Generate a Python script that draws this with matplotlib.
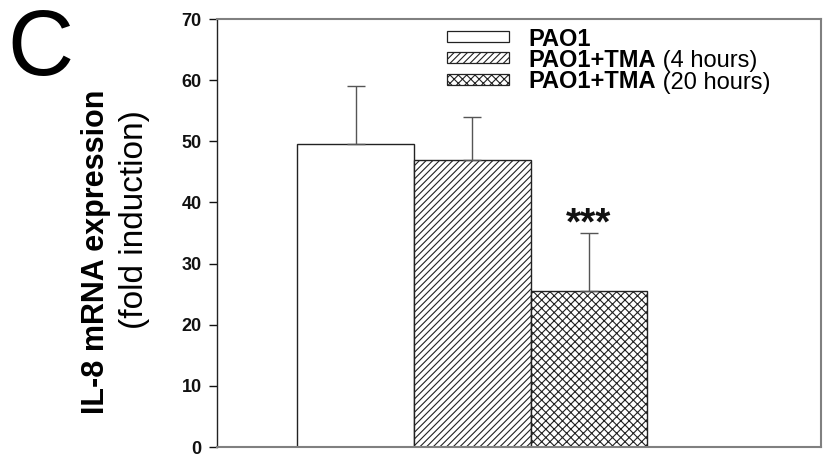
import matplotlib
matplotlib.use("Agg")
import matplotlib.pyplot as plt
from matplotlib.patches import Rectangle

plt.rcParams['font.family'] = ['Liberation Sans', 'DejaVu Sans']
plt.rcParams['hatch.linewidth'] = 0.8

# Data
groups = ["PAO1", "PAO1+TMA", "PAO1+TMA"]
group_notes = ["", " (4 hours)", " (20 hours)"]
means = [49.5, 47.0, 25.5]
errors_up = [9.5, 7.0, 9.5]
hatches = ["", "/////", "xxxx"]
y_ticks = [0, 10, 20, 30, 40, 50, 60, 70]

W, H = 825, 465
fig = plt.figure(figsize=(W / 100, H / 100), dpi=100)


def fx(px):
    return px / W


def fy(py):
    return 1 - py / H


ax = fig.add_axes([fx(217), fy(447), fx(821) - fx(217), fy(19) - fy(447)])

xs = list(range(len(means)))
for x, m, h in zip(xs, means, hatches):
    ax.bar(x, m, width=1.0, color="white", edgecolor="#222222",
           linewidth=1.0, hatch=h, zorder=2)

ax.errorbar(xs, means, yerr=[[0] * len(means), errors_up], fmt="none",
            ecolor="#555555", elinewidth=1.0, capsize=6.5, capthick=1.0,
            zorder=3)

# significance marker over the 20 h group
ax.annotate("***", xy=(xs[2], means[2] + errors_up[2]),
            xytext=(0, -1.0), textcoords="offset points",
            ha="center", va="baseline", fontsize=28, fontweight="bold",
            color="#111111")

ax.set_xlim(-1.19, 3.99)
ax.set_ylim(0, 70)
ax.set_yticks(y_ticks)
ax.set_yticklabels([str(t) for t in y_ticks], fontsize=13, fontweight="bold")
ax.set_xticks([])
ax.tick_params(axis="y", direction="out", length=6, width=1, pad=5,
               colors="#111111")

for side in ["top", "right", "bottom"]:
    ax.spines[side].set_color("#808080")
    ax.spines[side].set_linewidth(1.5)
ax.spines["left"].set_color("#222222")
ax.spines["left"].set_linewidth(1.0)

# Legend drawn by hand to mix bold and regular text
row_y = [36.5, 58, 79.5]
for gname, note, h, ry in zip(groups, group_notes, hatches, row_y):
    fig.patches.append(Rectangle((fx(447), fy(ry + 5.5)), fx(62), 11 / H,
                                 transform=fig.transFigure,
                                 facecolor="white", edgecolor="#222222",
                                 linewidth=0.9, hatch=h))
    t = fig.text(fx(528), fy(ry), gname, fontsize=17, fontweight="bold",
                 va="center_baseline", ha="left")
    if note:
        ax.annotate(note, xy=(1, 0), xycoords=t, fontsize=17,
                    va="bottom", ha="left", annotation_clip=False)

# Axis title (two lines, rotated)
fig.text(fx(96), fy(252), "IL-8 mRNA expression", rotation=90,
         fontsize=22, fontweight="bold", ha="center", va="center")
fig.text(fx(135), fy(220), "(fold induction)", rotation=90,
         fontsize=24, ha="center", va="center")

# Panel letter
fig.text(fx(7), fy(75), "C", fontsize=66, ha="left", va="baseline")

fig.savefig("out.png", dpi=100)
